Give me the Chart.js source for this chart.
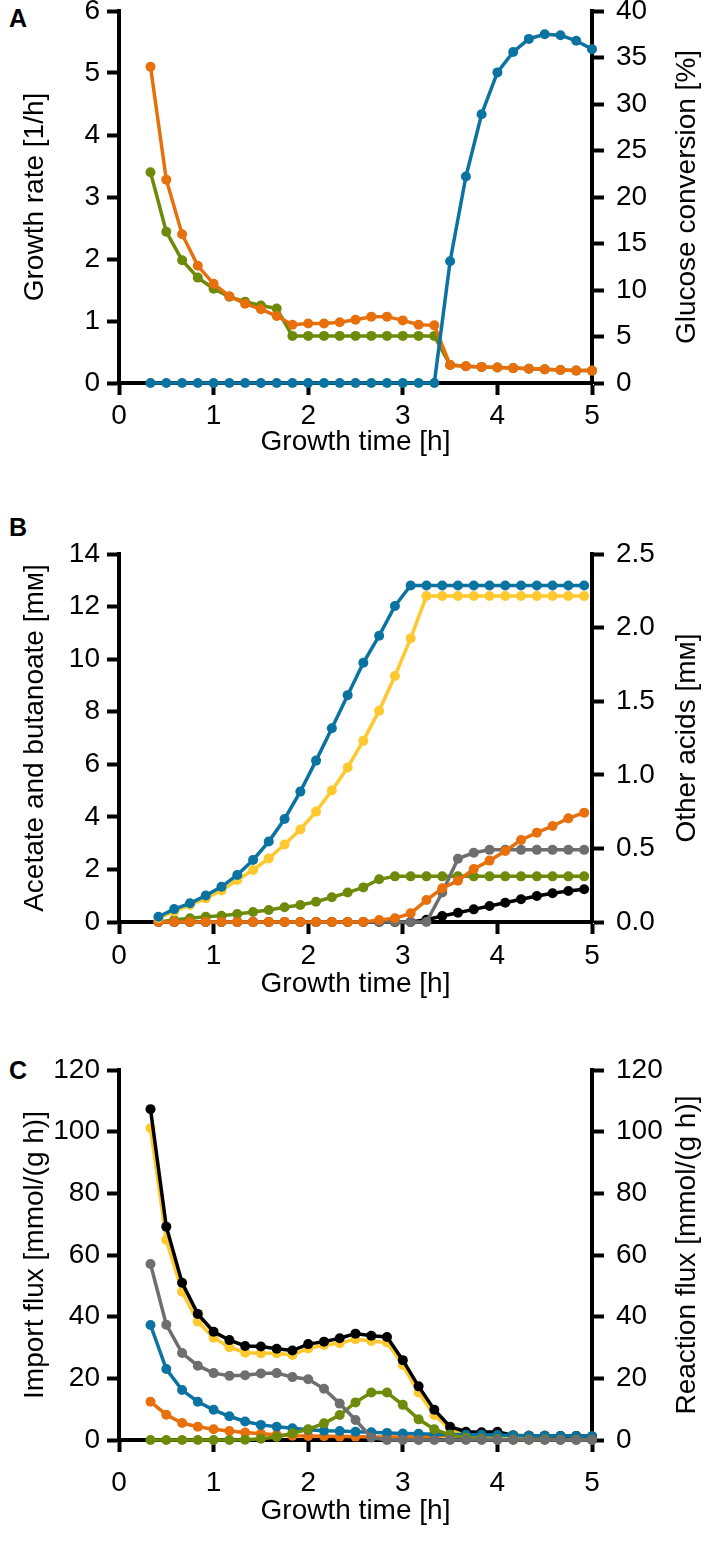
<!DOCTYPE html>
<html>
<head>
<meta charset="utf-8">
<script src="https://cdn.jsdelivr.net/npm/chart.js@4.4.1/dist/chart.umd.min.js"></script>
<style>
  body { margin: 0; background: #fff; width: 709px; height: 1541px; position: relative; overflow: hidden;
         font-family: "Liberation Sans", Arial, sans-serif; }
  canvas { position: absolute; left: 0; }
  .tag { position: absolute; left: 9px; font-weight: bold; font-size: 25px; line-height: 25px; color: #000; }
</style>
</head>
<body>
<div class="tag" style="top:6px">A</div>
<div class="tag" style="top:515px">B</div>
<div class="tag" style="top:1058px">C</div>
<canvas id="chartA" width="709" height="492" style="top:-19px;width:709px;height:492px"></canvas>
<canvas id="chartB" width="709" height="488" style="top:524px;width:709px;height:488px"></canvas>
<canvas id="chartC" width="709" height="500" style="top:1040px;width:709px;height:500px"></canvas>
<script>
// ---- data ----
// panel A: sampling times [h]
const timeA = [0.333, 0.5, 0.667, 0.833, 1.0, 1.167, 1.333, 1.5, 1.667, 1.833, 2.0, 2.167, 2.333, 2.5, 2.667,
               2.833, 3.0, 3.167, 3.333, 3.5, 3.667, 3.833, 4.0, 4.167, 4.333, 4.5, 4.667, 4.833, 5.0];
const growthOrange = [5.1, 3.28, 2.4, 1.89, 1.6, 1.4, 1.28, 1.19, 1.08, 0.94, 0.96, 0.96, 0.98, 1.02, 1.07,
                      1.07, 1.01, 0.94, 0.93, 0.29, 0.27, 0.26, 0.25, 0.24, 0.23, 0.22, 0.21, 0.2, 0.2];
const growthGreen = [3.4, 2.44, 1.98, 1.7, 1.52, 1.39, 1.31, 1.25, 1.2, 0.76, 0.76, 0.76, 0.76, 0.76, 0.76,
                     0.76, 0.76, 0.76, 0.76, 0.29, 0.27, 0.26, 0.25, 0.24, 0.23, 0.22, 0.21, 0.2, 0.2];
const glucoseConv = [0, 0, 0, 0, 0, 0, 0, 0, 0, 0, 0, 0, 0, 0, 0, 0, 0, 0, 0,
                     13.1, 22.2, 28.9, 33.4, 35.6, 37.0, 37.5, 37.4, 36.8, 35.9];

// panel B
const timeB = [0.417, 0.583, 0.75, 0.917, 1.083, 1.25, 1.417, 1.583, 1.75, 1.917, 2.083, 2.25, 2.417, 2.583,
               2.75, 2.917, 3.083, 3.25, 3.417, 3.583, 3.75, 3.917, 4.083, 4.25, 4.417, 4.583, 4.75, 4.917];
const acidBlue = [0.2, 0.49, 0.71, 1.01, 1.34, 1.79, 2.36, 3.06, 3.92, 4.96, 6.14, 7.37, 8.63, 9.86,
                  10.89, 12.02, 12.8, 12.8, 12.8, 12.8, 12.8, 12.8, 12.8, 12.8, 12.8, 12.8, 12.8, 12.8];
const acidYellow = [0.15, 0.4, 0.65, 0.9, 1.2, 1.6, 1.98, 2.42, 2.95, 3.52, 4.2, 5.0, 5.88, 6.9,
                    8.04, 9.36, 10.79, 12.4, 12.4, 12.4, 12.4, 12.4, 12.4, 12.4, 12.4, 12.4, 12.4, 12.4];
const otherGreen = [0, 0.014, 0.025, 0.036, 0.043, 0.054, 0.068, 0.082, 0.1, 0.115, 0.138, 0.168, 0.2, 0.235,
                    0.29, 0.31, 0.31, 0.31, 0.31, 0.31, 0.31, 0.31, 0.31, 0.31, 0.31, 0.31, 0.31, 0.31];
const otherOrange = [0, 0, 0, 0, 0, 0, 0, 0, 0, 0, 0, 0, 0, 0,
                     0.014, 0.025, 0.059, 0.149, 0.229, 0.281, 0.36, 0.417, 0.482, 0.557, 0.607, 0.652, 0.704, 0.743];
const otherGray = [0, 0, 0, 0, 0, 0, 0, 0, 0, 0, 0, 0, 0, 0,
                   0, 0, 0, 0, 0.2, 0.43, 0.47, 0.49, 0.49, 0.49, 0.49, 0.49, 0.49, 0.49];
const otherBlack = [0, 0, 0, 0, 0, 0, 0, 0, 0, 0, 0, 0, 0, 0,
                    0, 0, 0, 0.015, 0.041, 0.063, 0.086, 0.109, 0.131, 0.154, 0.177, 0.195, 0.21, 0.222];

// panel C (same times as panel A)
const timeC = timeA;
const fluxBlack = [107.3, 69.2, 51.0, 40.9, 35.1, 32.4, 30.5, 30.3, 29.6, 29.0, 31.1, 31.9, 33.0, 34.5, 33.8,
                   33.4, 25.9, 17.4, 9.8, 4.3, 2.7, 2.5, 2.7, 1.5, 1.4, 1.4, 1.3, 1.3, 1.2];
const fluxYellow = [101.1, 64.9, 48.1, 38.4, 33.2, 30.1, 28.3, 28.1, 28.1, 27.6, 29.7, 30.8, 31.4, 32.7, 32.1,
                    31.6, 24.3, 15.4, 8.1, 3.5, 2.0, 1.6, 1.6, 1.5, 1.4, 1.4, 1.3, 1.3, 1.2];
const fluxGray = [57.1, 37.4, 28.2, 24.1, 21.7, 20.8, 21.0, 21.6, 21.7, 20.4, 19.7, 16.6, 11.8, 6.5, 0.8,
                  0, 0, 0, 0, 0, 0, 0, 0, 0, 0, 0, 0, 0, 0];
const fluxBlue = [37.3, 23.0, 16.2, 12.4, 9.8, 7.7, 6.0, 4.9, 4.3, 3.8, 3.3, 3.0, 2.9, 2.7, 2.5,
                  2.3, 2.1, 2.0, 1.9, 1.8, 1.7, 1.7, 1.6, 1.5, 1.4, 1.4, 1.3, 1.3, 1.2];
const fluxOrange = [12.4, 8.2, 5.5, 4.3, 3.5, 2.9, 2.4, 2.0, 1.7, 1.4, 1.3, 1.2, 1.1, 1.1, 1.0,
                    1.0, 1.0, 1.0, 1.1, 1.5, 1.7, 1.7, 1.6, 1.5, 1.4, 1.4, 1.3, 1.3, 1.2];
const fluxGreen = [0, 0, 0, 0, 0, 0, 0.1, 0.4, 1.0, 2.2, 3.5, 5.4, 8.1, 12.2, 15.4,
                   15.4, 11.4, 6.7, 3.5, 1.6, 0.7, 0.4, 0.3, 0.2, 0.2, 0.2, 0.1, 0.1, 0.1];

// ---- styling ----
const BLUE = '#0b73a1', ORANGE = '#e8700c', GREEN = '#6e8a0a', YELLOW = '#fec82f', GRAY = '#6e6e6e', BLACK = '#000000';
const FONT = '"Liberation Sans", Arial, sans-serif';
Chart.defaults.font.family = FONT;
Chart.defaults.font.size = 28;
Chart.defaults.color = '#000';

function series(xs, ys, color, axis, order) {
    return {
        data: xs.map((x, i) => ({ x: x, y: ys[i] })),
        borderColor: color, backgroundColor: color,
        borderWidth: 3.5, pointRadius: 5, pointHoverRadius: 5, pointBorderWidth: 0,
        yAxisID: axis, order: order, clip: false, tension: 0
    };
}

const axisGrid = { drawOnChartArea: false, drawTicks: true, tickLength: 12, tickWidth: 4, tickColor: '#000' };
const axisBorder = { display: true, color: '#000', width: 4 };

function xAxis(tickPad, titlePad, h) {
    return {
        type: 'linear', position: 'bottom', min: 0, max: 5,
        ticks: { stepSize: 1, padding: tickPad, maxRotation: 0 },
        grid: axisGrid, border: axisBorder,
        title: { display: true, text: 'Growth time [h]', padding: { top: 0, bottom: titlePad } },
        afterFit: s => { s.height = h; }
    };
}
function leftAxis(max, step, title) {
    return {
        type: 'linear', position: 'left', min: 0, max: max,
        ticks: { stepSize: step, padding: 7 },
        grid: axisGrid, border: axisBorder,
        title: { display: true, text: title, padding: { top: 18, bottom: 0 } },
        afterFit: s => { s.width = 119; }
    };
}
function rightAxis(max, step, fmt) {
    return {
        type: 'linear', position: 'right', min: 0, max: max,
        ticks: { stepSize: step, padding: 12, callback: fmt || (v => v) },
        grid: axisGrid, border: axisBorder,
        afterFit: s => { s.width = 117; }
    };
}

// right-hand titles read bottom-to-top like the left ones
const rightTitle = {
    id: 'rightTitle',
    afterDraw(chart, args, opts) {
        const ctx = chart.ctx, a = chart.chartArea;
        ctx.save();
        ctx.translate(opts.x, (a.top + a.bottom) / 2);
        ctx.rotate(-Math.PI / 2);
        ctx.font = '28px ' + FONT;
        ctx.fillStyle = '#000';
        ctx.textAlign = 'center';
        ctx.textBaseline = 'middle';
        ctx.fillText(opts.text, 0, 0);
        ctx.restore();
    }
};

// top padding is larger than the tick labels' half height + padding, so the plot top is fixed
function makeChart(id, datasets, scales, rtitle) {
    return new Chart(document.getElementById(id), {
        type: 'line',
        data: { datasets: datasets },
        options: {
            responsive: false, animation: false, devicePixelRatio: 1,
            layout: { autoPadding: false, padding: { top: 30, left: 0, right: 0, bottom: 0 } },
            scales: scales,
            plugins: { legend: { display: false }, tooltip: { enabled: false },
                       rightTitle: { text: rtitle, x: 687 } }
        },
        plugins: [rightTitle]
    });
}

makeChart('chartA', [
    series(timeA, glucoseConv, BLUE, 'yR', 0),
    series(timeA, growthOrange, ORANGE, 'y', 1),
    series(timeA, growthGreen, GREEN, 'y', 2)
], { x: xAxis(4, 14, 90), y: leftAxis(6, 1, 'Growth rate [1/h]'), yR: rightAxis(40, 5) }, 'Glucose conversion [%]');

makeChart('chartB', [
    series(timeB, acidBlue, BLUE, 'y', 0),
    series(timeB, acidYellow, YELLOW, 'y', 1),
    series(timeB, otherOrange, ORANGE, 'yR', 2),
    series(timeB, otherGray, GRAY, 'yR', 3),
    series(timeB, otherGreen, GREEN, 'yR', 4),
    series(timeB, otherBlack, BLACK, 'yR', 5)
], { x: xAxis(5, 11, 90), y: leftAxis(14, 2, 'Acetate and butanoate [mᴍ]'),
     yR: rightAxis(2.5, 0.5, v => v.toFixed(1)) }, 'Other acids [mᴍ]');

makeChart('chartC', [
    series(timeC, fluxGray, GRAY, 'yR', 0),
    series(timeC, fluxGreen, GREEN, 'yR', 1),
    series(timeC, fluxBlue, BLUE, 'y', 2),
    series(timeC, fluxBlack, BLACK, 'yR', 3),
    series(timeC, fluxOrange, ORANGE, 'y', 4),
    series(timeC, fluxYellow, YELLOW, 'y', 5)
], { x: xAxis(14, 12, 100), y: leftAxis(120, 20, 'Import flux [mmol/(g h)]'), yR: rightAxis(120, 20) }, 'Reaction flux [mmol/(g h)]');
</script>
</body>
</html>
